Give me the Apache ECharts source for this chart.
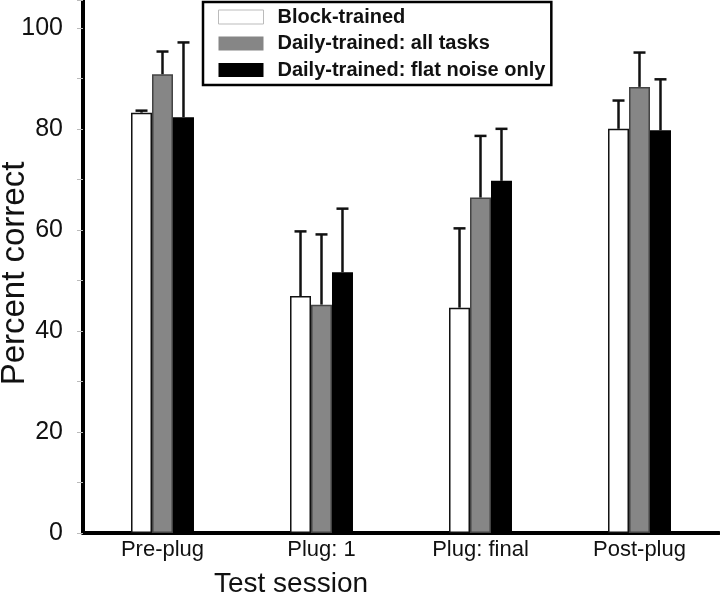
<!DOCTYPE html>
<html><head><meta charset="utf-8">
<script src="https://cdn.jsdelivr.net/npm/echarts@6/dist/echarts.min.js"></script>
<style>html,body{margin:0;padding:0;background:#fff}#c{width:720px;height:604px}</style>
</head><body><div id="c"></div>
<script>
const categories = ['Pre-plug', 'Plug: 1', 'Plug: final', 'Post-plug'];
const seriesNames = ['Block-trained', 'Daily-trained: all tasks', 'Daily-trained: flat noise only'];
const blockTrained = [83.2, 46.9, 44.6, 80.0];
const blockTrainedErr = [0.4, 12.8, 15.7, 5.6];
const dailyAll = [90.8, 45.2, 66.4, 88.3];
const dailyAllErr = [4.5, 13.9, 12.2, 6.8];
const dailyFlat = [82.3, 51.6, 69.7, 79.7];
const dailyFlatErr = [14.8, 12.6, 10.3, 10.1];
const yLabelStep = 20;

const BAR_FRAC = 0.132;
const sans = "'Liberation Sans', Arial, sans-serif";

function barSeries(name, vals, fill, border) {
  return {
    name: name, type: 'bar', data: vals, barWidth: (BAR_FRAC * 100) + '%', barGap: '0%',
    itemStyle: { color: fill, borderColor: border, borderWidth: 1.5 },
    silent: true, z: 2
  };
}
function errSeries(vals, errs, k) {
  return {
    type: 'custom', z: 10, silent: true,
    data: vals.map((v, i) => [i, v, errs[i]]),
    renderItem(params, api) {
      const i = api.value(0), v = api.value(1), e = api.value(2);
      const band = api.size([1, 0])[0];
      const bw = band * BAR_FRAC;
      const p0 = api.coord([i, v]);
      const p1 = api.coord([i, v + e]);
      const x = p0[0] + (k - 1) * bw;
      return { type: 'group', children: [
        { type: 'line', shape: { x1: x, y1: p0[1], x2: x, y2: p1[1] }, style: { stroke: '#111', lineWidth: 2.5 } },
        { type: 'line', shape: { x1: x - 6, y1: p1[1], x2: x + 6, y2: p1[1] }, style: { stroke: '#111', lineWidth: 2.5 } }
      ]};
    }
  };
}

const chart = echarts.init(document.getElementById('c'), null, { renderer: 'canvas' });
chart.setOption({
  animation: false,
  backgroundColor: '#fff',
  grid: { left: 83, right: 1, top: 0, bottom: 71, containLabel: false, outerBoundsMode: 'none' },
  legend: {
    left: 203, top: 2, orient: 'vertical', icon: 'rect',
    itemWidth: 45, itemHeight: 14, itemGap: 6.5,
    padding: [5, 6, 5, 15],
    backgroundColor: '#fff', borderColor: '#000', borderWidth: 2.5,
    textStyle: { fontFamily: sans, fontWeight: 'bold', fontSize: 20, color: '#111', padding: [0, 0, 0, 9] },
    data: [
      { name: seriesNames[0], itemStyle: { color: '#fff', borderColor: '#bbb', borderWidth: 1 } },
      { name: seriesNames[1], itemStyle: { color: '#868686', borderWidth: 0 } },
      { name: seriesNames[2], itemStyle: { color: '#000', borderWidth: 0 } }
    ]
  },
  xAxis: {
    type: 'category', data: categories,
    axisLine: { lineStyle: { color: '#000', width: 4 } },
    axisTick: { show: false },
    axisLabel: { fontFamily: sans, fontSize: 22, color: '#111', margin: 6 },
    name: 'Test session', nameLocation: 'middle', nameGap: 37, nameMoveOverlap: false,
    nameTextStyle: { fontFamily: sans, fontSize: 28, color: '#111', padding: [0, 220, 0, 0] }
  },
  yAxis: {
    type: 'value', min: 0, max: 105.5, interval: 10,
    axisLine: { show: true, lineStyle: { color: '#000', width: 4 } },
    axisTick: { show: true, length: 6, lineStyle: { color: '#bbb', width: 1 } },
    splitLine: { show: false },
    axisLabel: {
      fontFamily: sans, fontSize: 25, color: '#111', margin: 20, padding: [10, 0, 0, 0],
      formatter: v => (v % yLabelStep === 0 ? String(v) : '')
    },
    name: 'Percent correct', nameLocation: 'middle', nameGap: 52, nameMoveOverlap: false,
    nameTextStyle: { fontFamily: sans, fontSize: 33, color: '#111', padding: [0, 14, 0, 0] }
  },
  series: [
    barSeries(seriesNames[0], blockTrained, '#fff', '#111'),
    barSeries(seriesNames[1], dailyAll, '#868686', '#444'),
    barSeries(seriesNames[2], dailyFlat, '#000', '#000'),
    errSeries(blockTrained, blockTrainedErr, 0),
    errSeries(dailyAll, dailyAllErr, 1),
    errSeries(dailyFlat, dailyFlatErr, 2)
  ]
});
</script></body></html>
